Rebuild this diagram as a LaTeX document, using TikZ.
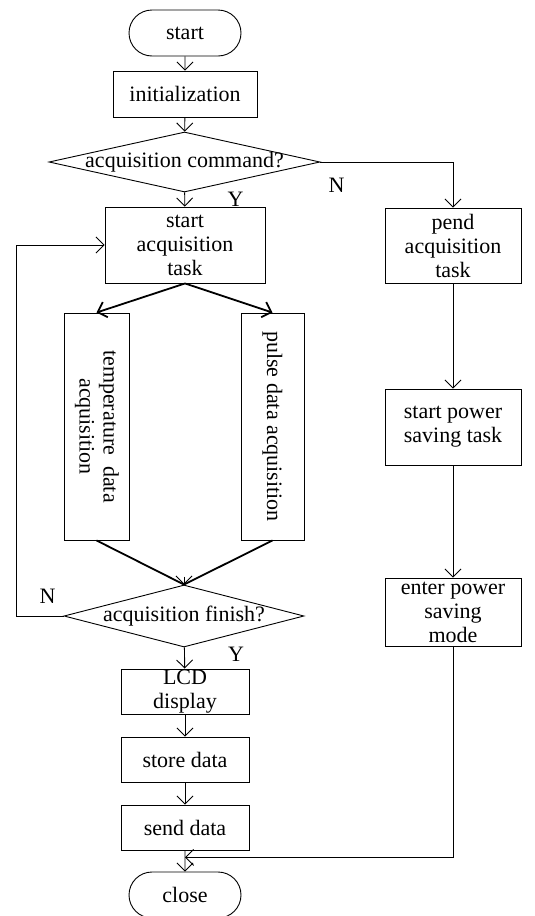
\documentclass[tikz,border=0pt]{standalone}
\usepackage{fontspec}
\setmainfont{Liberation Serif}
\usetikzlibrary{arrows.meta,positioning,shapes.geometric,shapes.misc}
\tikzset{
  >={Straight Barb[length=8pt,width=16pt]},
  base/.style={draw,line width=0.9pt,inner sep=0pt,align=center,
    font=\fontsize{22}{24}\selectfont},
  box/.style={base,rectangle,minimum width=#1},
  box/.default=128pt,
  term/.style={base,rounded rectangle,minimum width=112pt,minimum height=46pt},
  decision/.style={base,diamond,minimum width=#1},
  flow/.style={->,line width=0.9pt},
  bold flow/.style={line width=1.8pt},
  tag/.style={font=\fontsize{22}{24}\selectfont,inner sep=0pt},
}

\begin{document}
\begin{tikzpicture}[x=1pt,y=-1pt]
    \useasboundingbox (0,0) rectangle (535,916);
    % main column
    \node[term] (start) at (185,33) {start};
    \node[box=144pt,minimum height=46pt] (init) at (185,94) {initialization};
    \node[decision=271pt,minimum height=60pt] (cmd) at (184.5,162) {\makebox[0pt]{acquisition command?}};
    \node[box=160pt,minimum height=76pt] (acq) at (185,245) {start\\acquisition\\task};
    \node[box=65pt,minimum height=227pt] (temp) at (96.5,426.5)
      {\rotatebox{-90}{\begin{tabular}{@{}c@{}}temperature\ \ data\\acquisition\end{tabular}}};
    \node[box=63pt,minimum height=227pt] (pulse) at (272.5,426.5)
      {\rotatebox{-90}{pulse data acquisition}};
    \node[decision=240pt,minimum height=62pt] (fin) at (184,616) {\makebox[0pt]{acquisition finish?}};
    \node[box,minimum height=45pt] (lcd) at (185,691.5) {LCD\\display};
    \node[box,minimum height=45pt] (store) at (185,759.5) {store data};
    \node[box,minimum height=45pt] (send) at (185,827.5) {send data};
    \node[term] (close) at (185,895) {close};
    % power saving column
    \node[box=136pt,minimum height=75pt] (pend) at (453,245.5) {pend\\acquisition\\task};
    \node[box=136pt,minimum height=76pt] (pwr) at (453,427) {start power\\saving task};
    \node[box=136pt,minimum height=68pt] (enter) at (453,612) {enter power\\saving\\mode};
    % branch labels
    \node[tag] (y1) at ([xshift=51pt,yshift=-7pt]cmd.south) {Y};
    \node[tag] (n1) at ([xshift=16pt,yshift=-23pt]cmd.east) {N};
    \node[tag] (n2) at ([xshift=-16pt,yshift=20pt]fin.west) {N};
    \node[tag] (y2) at ([xshift=52pt,yshift=-7pt]fin.south) {Y};
    \coordinate (merge) at ([yshift=8pt]fin.north);
    \coordinate (join) at ([yshift=-7pt]send.south);

    \draw[flow] (start) -- (init);
    \draw[flow] (init) -- (cmd);
    \draw[flow] (cmd) -- (acq);
    \draw[flow] (cmd.east) -| (pend.north);
    \draw[->,bold flow] (acq.south) -- (temp.north);
    \draw[->,bold flow] (acq.south) -- (pulse.north);
    \draw[bold flow] (temp.south) -- (fin.north);
    \draw[bold flow] (pulse.south) -- (fin.north);
    \draw[flow] (merge) -- (fin.north);
    \draw[flow] (fin.west) -- ++(-47,0) |- (acq.west);
    \draw[flow] (fin) -- (lcd);
    \draw[flow] (lcd) -- (store);
    \draw[flow] (store) -- (send);
    \draw[flow] (send) -- (close);
    \draw[flow] (pend) -- (pwr);
    \draw[flow] (pwr) -- (enter);
    \draw[flow] (enter.south) |- (join);
\end{tikzpicture}
\end{document}
